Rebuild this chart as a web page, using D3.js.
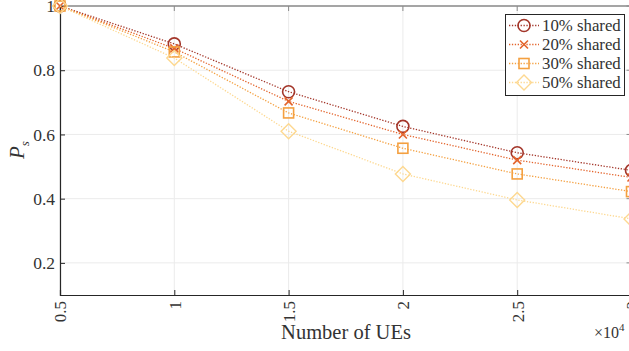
<!DOCTYPE html>
<html>
<head>
<meta charset="utf-8">
<script src="https://cdn.jsdelivr.net/npm/d3@7"></script>
<style>
  body { margin: 0; background: #fff; }
  svg { display: block; font-family: 'Liberation Serif', 'DejaVu Serif', serif; }
</style>
</head>
<body>
<svg id="chart" width="629" height="351"></svg>
<script>
/* data */
const numUEs = [5000, 10000, 15000, 20000, 25000, 30000]
const seriesNames = ['10% shared', '20% shared', '30% shared', '50% shared']
const shared10 = [1.0, 0.882, 0.733, 0.625, 0.543, 0.488]
const shared20 = [1.0, 0.868, 0.703, 0.600, 0.520, 0.466]
const shared30 = [1.0, 0.857, 0.667, 0.557, 0.477, 0.422]
const shared50 = [1.0, 0.838, 0.610, 0.477, 0.396, 0.337]
const xTicks = [5000, 10000, 15000, 20000, 25000, 30000]
const yTicks = [0.2, 0.4, 0.6, 0.8, 1]

const colors = ['#a3362a', '#e3642c', '#f4a040', '#fdd890']
const markers = ['circle', 'cross', 'square', 'diamond']
const allSeries = [shared10, shared20, shared30, shared50]
const textCol = '#333333'

/* plot box */
const margin = { top: 6, left: 60, right: -2.5, bottom: 56 }
const W = 629
const H = 351

const svg = d3.select('#chart')

const x = d3.scaleLinear().domain([5000, 30000]).range([margin.left, W - margin.right])
const y = d3.scaleLinear().domain([0.1, 1]).range([H - margin.bottom, margin.top])

/* grid */
svg.append('g')
  .selectAll('line.gx')
  .data(xTicks)
  .join('line')
  .attr('x1', (d) => x(d)).attr('x2', (d) => x(d))
  .attr('y1', y(0.1)).attr('y2', y(1))
  .attr('stroke', '#ebebeb').attr('stroke-width', 1)
svg.append('g')
  .selectAll('line.gy')
  .data(yTicks)
  .join('line')
  .attr('x1', x(5000)).attr('x2', x(30000))
  .attr('y1', (d) => y(d)).attr('y2', (d) => y(d))
  .attr('stroke', '#ebebeb').attr('stroke-width', 1)

/* box: top and right lighter */
svg.append('line')
  .attr('x1', x(5000)).attr('x2', x(30000))
  .attr('y1', y(1)).attr('y2', y(1))
  .attr('stroke', '#8a8a8a').attr('stroke-width', 1.5)
svg.append('line')
  .attr('x1', x(30000)).attr('x2', x(30000))
  .attr('y1', y(1)).attr('y2', y(0.1))
  .attr('stroke', '#8a8a8a').attr('stroke-width', 1.5)

/* axes with inward ticks */
const xAxis = d3.axisBottom(x).tickValues(xTicks).tickSize(-5).tickFormat((d) => d / 1e4)
const gx = svg.append('g')
  .attr('transform', `translate(0,${y(0.1)})`)
  .call(xAxis)
gx.select('.domain').attr('stroke', '#262626').attr('stroke-width', 1.2)
gx.selectAll('.tick line').attr('stroke', '#262626')
gx.selectAll('.tick text')
  .attr('font-family', "'Liberation Serif', serif")
  .attr('font-size', 17)
  .attr('fill', textCol)
  .attr('transform', 'rotate(-90)')
  .attr('text-anchor', 'end')
  .attr('x', -6)
  .attr('y', 0)
  .attr('dy', '0.35em')

/* top ticks */
svg.append('g')
  .selectAll('line')
  .data(xTicks)
  .join('line')
  .attr('x1', (d) => x(d)).attr('x2', (d) => x(d))
  .attr('y1', y(1)).attr('y2', y(1) + 5)
  .attr('stroke', '#8a8a8a')

const yAxis = d3.axisLeft(y).tickValues(yTicks).tickSize(-5).tickFormat((d) => d)
const gy = svg.append('g')
  .attr('transform', `translate(${x(5000)},0)`)
  .call(yAxis)
gy.select('.domain').attr('stroke', '#262626').attr('stroke-width', 1.2)
gy.selectAll('.tick line').attr('stroke', '#262626')
gy.selectAll('.tick text')
  .attr('font-family', "'Liberation Serif', serif")
  .attr('font-size', 17.5)
  .attr('fill', textCol)
  .attr('x', -5)

/* right ticks */
svg.append('g')
  .selectAll('line')
  .data(yTicks)
  .join('line')
  .attr('x1', x(30000)).attr('x2', x(30000) - 5)
  .attr('y1', (d) => y(d)).attr('y2', (d) => y(d))
  .attr('stroke', '#8a8a8a')

/* axis labels */
svg.append('text')
  .attr('x', 346).attr('y', 339)
  .attr('text-anchor', 'middle')
  .attr('font-size', 20.5)
  .attr('fill', textCol)
  .text('Number of UEs')

const mult = svg.append('text')
  .attr('x', 594).attr('y', 338)
  .attr('font-size', 16)
  .attr('fill', textCol)
mult.append('tspan').text('×10')
mult.append('tspan').attr('dy', -7).attr('font-size', 11).text('4')

const yl = svg.append('text')
  .attr('transform', 'translate(24,150) rotate(-90)')
  .attr('text-anchor', 'middle')
  .attr('font-size', 21)
  .attr('font-style', 'italic')
  .attr('fill', textCol)
yl.append('tspan').text('P')
yl.append('tspan').attr('dy', 5).attr('font-size', 13).text('s')

/* marker drawing */
function drawMarker(g, type, color) {
  if (type === 'circle') {
    g.append('circle').attr('r', 6)
      .attr('fill', 'none').attr('stroke', color).attr('stroke-width', 1.6)
  } else if (type === 'cross') {
    g.append('path').attr('d', 'M-4,-4L4,4M-4,4L4,-4')
      .attr('fill', 'none').attr('stroke', color).attr('stroke-width', 1.6)
  } else if (type === 'square') {
    g.append('rect').attr('x', -5).attr('y', -5).attr('width', 10).attr('height', 10)
      .attr('fill', 'none').attr('stroke', color).attr('stroke-width', 1.6)
  } else {
    g.append('path').attr('d', 'M0,-7.5L7.5,0L0,7.5L-7.5,0Z')
      .attr('fill', 'none').attr('stroke', color).attr('stroke-width', 1.4)
  }
}

const line = d3.line()
  .x((d) => x(d[0]))
  .y((d) => y(d[1]))

allSeries.forEach(function (vals, i) {
  const pts = numUEs.map((u, j) => [u, vals[j]])
  svg.append('path')
    .datum(pts)
    .attr('d', line)
    .attr('fill', 'none')
    .attr('stroke', colors[i])
    .attr('stroke-width', 1.3)
    .attr('stroke-dasharray', '1.3,1.6')
  pts.forEach(function (p) {
    const g = svg.append('g').attr('transform', `translate(${x(p[0])},${y(p[1])})`)
    drawMarker(g, markers[i], colors[i])
  })
})

/* legend */
svg.append('rect')
  .attr('x', 505.5).attr('y', 14.5).attr('width', 119).attr('height', 81)
  .attr('fill', '#fff').attr('stroke', '#262626').attr('stroke-width', 1)
seriesNames.forEach(function (name, i) {
  const ly = 25.5 + i * 19
  const g = svg.append('g')
  g.append('line')
    .attr('x1', 509).attr('x2', 539).attr('y1', ly).attr('y2', ly)
    .attr('stroke', colors[i]).attr('stroke-width', 1.3)
    .attr('stroke-dasharray', '1.3,1.6')
  drawMarker(g.append('g').attr('transform', `translate(524,${ly})`), markers[i], colors[i])
  g.append('text')
    .attr('x', 542).attr('y', ly + 5.5)
    .attr('font-size', 16.8)
    .attr('fill', textCol)
    .text(name)
})
</script>
</body>
</html>
